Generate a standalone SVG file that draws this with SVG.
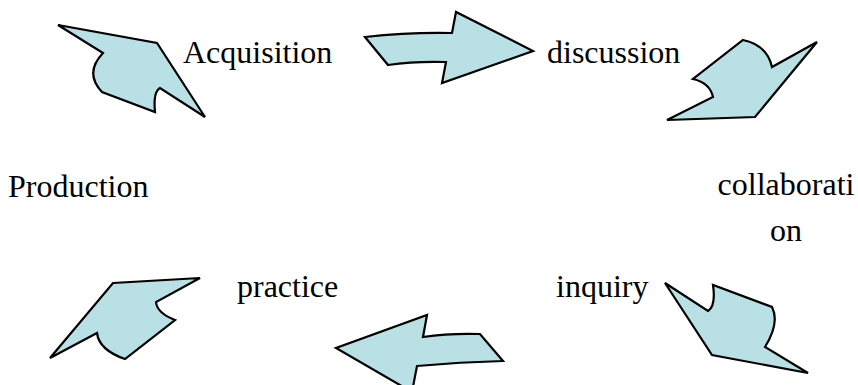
<svg xmlns="http://www.w3.org/2000/svg" width="858" height="385" viewBox="0 0 858 385">
<style>
.arr{fill:#b9e0e4;stroke:#000;stroke-width:2.2;stroke-linejoin:miter}
.t{font-family:"Liberation Serif","Times New Roman",serif;font-size:32px;fill:#000}
</style>
<defs>
<clipPath id="clipOn"><rect x="700" y="150" width="158" height="92"/></clipPath>
</defs>
<rect width="858" height="385" fill="#fff"/>
<g id="connectors">
<path id="a1" class="arr" d="M58,25 L157,43 L205,117 L160,88 Q153,92 155,112 L102,92 Q84,73 103,53 Z"/>
<path id="a2" class="arr" d="M365,37 Q410,32 452,33 L456,12 L533,51 L442,83 L446,62 Q415,61 388,65 Z"/>
<path id="a3" class="arr" d="M743,40 Q767,45 772,67 L817,42 L755,117 L667,120 L713,97 Q710,83 693,79 Z"/>
<path id="a4" class="arr" d="M113,283 L200,278 L156,302 Q157,313 175,320 L125,359 Q99,350 97,333 L50,358 Z"/>
<path id="a5" class="arr" d="M427,315 L423,337 Q450,333 480,334 L503,361 Q460,362 417,366 L412,392 L336,348 Z"/>
<path id="a6" class="arr" d="M665,283 L708,311 Q716,306 713,285 L772,307 Q780,323 765,347 L808,373 L712,355 Z"/>
</g>
<g id="n-acquisition"><text class="t" x="183" y="63">Acquisition</text></g>
<g id="n-discussion"><text class="t" x="547" y="63">discussion</text></g>
<g id="n-collaboration"><text class="t" x="786" y="195" text-anchor="middle">collaborati</text><text class="t" x="786" y="241" text-anchor="middle" clip-path="url(#clipOn)">on</text></g>
<g id="n-inquiry"><text class="t" x="556" y="297">inquiry</text></g>
<g id="n-practice"><text class="t" x="237" y="297">practice</text></g>
<g id="n-production"><text class="t" x="8" y="197">Production</text></g>
</svg>
